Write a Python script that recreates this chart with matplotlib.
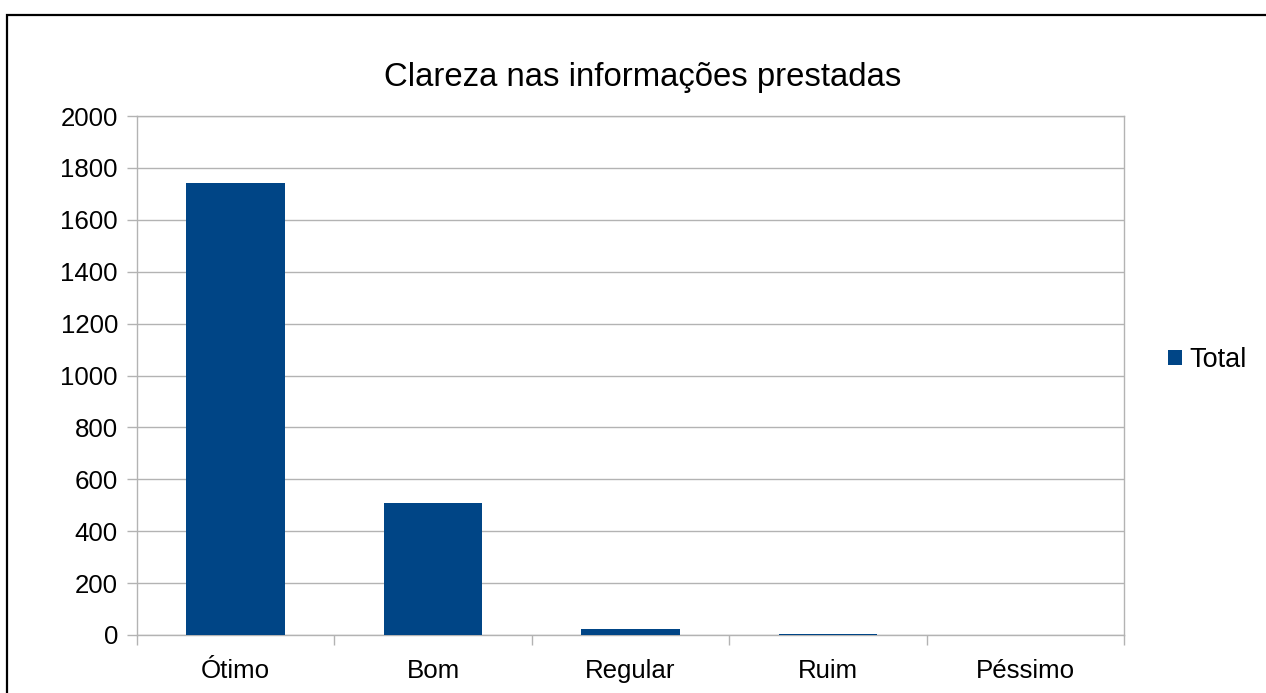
import matplotlib
matplotlib.use('Agg')
import matplotlib.pyplot as plt
from matplotlib.patches import Rectangle

categories = ['Ótimo', 'Bom', 'Regular', 'Ruim', 'Péssimo']
totals = [1742, 508, 22, 4, 0]
series_name = 'Total'
yticks = [0, 200, 400, 600, 800, 1000, 1200, 1400, 1600, 1800, 2000]

W, H = 1266, 693
plt.rcParams['font.family'] = ['Liberation Sans', 'DejaVu Sans']

fig = plt.figure(figsize=(W / 100, H / 100), dpi=100)
fig.patch.set_facecolor('white')

# outer frame, cut off on the right and bottom like the screenshot
fig.patches.append(Rectangle((7.5 / W, -0.1), 1.2, 1 - 15 / H + 0.1,
                             transform=fig.transFigure, fill=False,
                             edgecolor='black', linewidth=1.6))

ax = fig.add_axes([137 / W, (H - 635) / H, (1124 - 137) / W, (635 - 116) / H])
x = list(range(len(categories)))
ax.bar(x, totals, width=0.5, color='#004586', label=series_name, zorder=3)

ax.set_xlim(-0.5, len(categories) - 0.5)
ax.set_ylim(0, 2000)
ax.set_yticks(yticks)
ax.yaxis.grid(True, color='#b3b3b3', linewidth=1, zorder=0)

ax.set_xticks(x)
ax.set_xticklabels(categories, fontsize=18.6)
ax.set_xticks([i - 0.5 for i in range(len(categories) + 1)], minor=True)
ax.tick_params(axis='x', which='major', length=0, pad=17)
ax.tick_params(axis='x', which='minor', length=7.2, width=1, color='#b3b3b3')
ax.tick_params(axis='y', length=7.2, width=1, color='#b3b3b3', pad=6.5, labelsize=18.6)

for s in ax.spines.values():
    s.set_color('#b3b3b3')
    s.set_linewidth(1)

fig.text(643 / W, 1 - 86 / H, 'Clareza nas informações prestadas',
         fontsize=23.7, ha='center', va='baseline')

ax.legend(loc='center left', bbox_to_anchor=(1168 / W, 1 - 360 / H),
          bbox_transform=fig.transFigure, frameon=False, fontsize=19.5,
          handlelength=0.5, handleheight=0.5, handletextpad=0.3,
          borderpad=0, borderaxespad=0)

fig.savefig('out.png', dpi=100)
